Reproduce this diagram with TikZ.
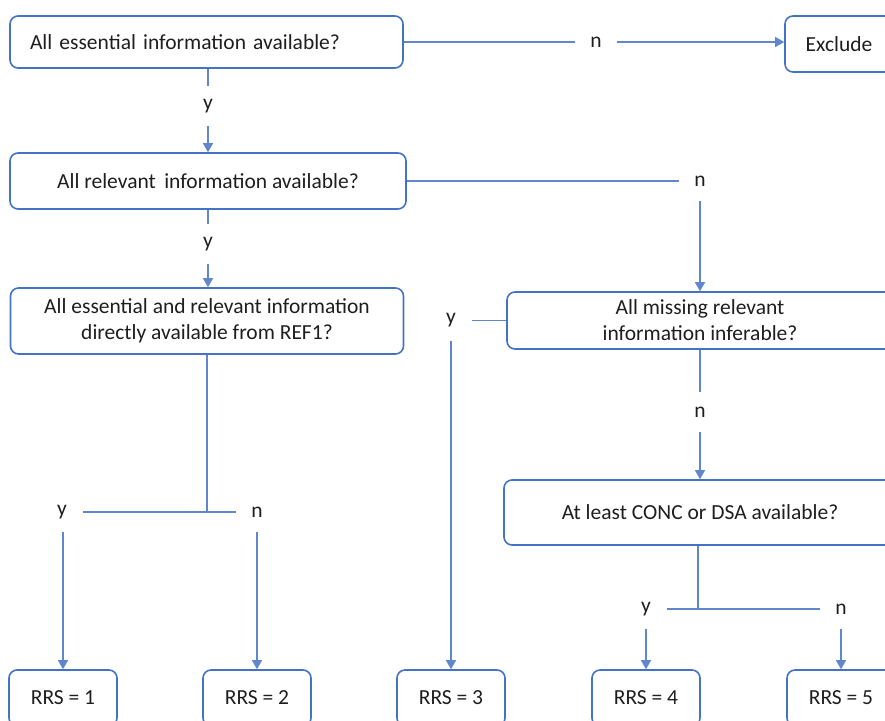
\documentclass[tikz,border=0pt]{standalone}
\usepackage{fontspec}
\setmainfont{Carlito}
\usetikzlibrary{arrows.meta}
\definecolor{bl}{HTML}{4472C4}
\definecolor{tx}{HTML}{1E1E1E}
\begin{document}
\begin{tikzpicture}[x=1pt,y=-1pt,
 box/.style={draw=bl, line width=1.6pt, rounded corners=8pt, text=tx, inner sep=0pt, align=center, font=\fontsize{21.5}{26}\selectfont},
 lab/.style={text=tx, inner sep=0pt, minimum width=42pt, minimum height=40pt, font=\fontsize{21.5}{26}\selectfont},
 con/.style={draw=bl!85, line width=1.3pt},
 arr/.style={con, -{Triangle[width=10pt,length=9pt]}}]
\useasboundingbox (0,0) rectangle (885,720);
\clip (0,0) rectangle (885,720);
% boxes
\node[box, minimum width=393pt, minimum height=52pt, text width=353pt, align=left] (b1) at (206.5,42) {All essential information available?};
\node[box, minimum width=108pt, minimum height=56pt] (ex) at (839,44) {Exclude};
\node[box, minimum width=396pt, minimum height=56pt] (b2) at (208,181) {All relevant\, information available?};
\node[box, minimum width=393pt, minimum height=66pt] (b3) at (207,321) {All essential and relevant information\\directly available from REF1?};
\node[box, minimum width=386pt, minimum height=57pt] (b4) at (700,320.5) {All missing relevant\\information inferable?};
\node[box, minimum width=392pt, minimum height=65pt] (b5) at (700,512.5) {At least CONC or DSA available?};
\node[box, minimum width=108pt, minimum height=56pt] (r1) at (63,698) {RRS = 1};
\node[box, minimum width=108pt, minimum height=56pt] (r2) at (257,698) {RRS = 2};
\node[box, minimum width=108pt, minimum height=56pt] (r3) at (451,698) {RRS = 3};
\node[box, minimum width=108pt, minimum height=56pt] (r4) at (646,698) {RRS = 4};
\node[box, minimum width=108pt, minimum height=56pt] (r5) at (841,698) {RRS = 5};
% labels
\node[lab] (n1) at (596,42) {n};
\node[lab] (y1) at (208,106) {y};
\node[lab] (y2) at (208,244) {y};
\node[lab] (n2) at (700,181) {n};
\node[lab] (y3) at (451,320.5) {y};
\node[lab] (n3) at (700,412) {n};
\node[lab] (yl1) at (62,512) {y};
\node[lab] (nl2) at (257,512) {n};
\node[lab] (yl4) at (646,609) {y};
\node[lab] (nl5) at (841,609) {n};
% connectors
\draw[con] (b1.east |- n1.west) -- (n1.west);
\draw[arr] (n1.east) -- (ex.west |- n1.east);
\draw[con] (b1.south -| y1) -- (y1.north);
\draw[arr] (y1.south) -- (b2.north -| y1);
\draw[con] (b2.south -| y2) -- (y2.north);
\draw[arr] (y2.south) -- (b3.north -| y2);
\draw[con] (b2.east) -- (n2.west);
\draw[arr] (n2.south) -- (b4.north);
\draw[con] (b4.west) -- (y3.east);
\draw[arr] (y3.south) -- (r3.north);
\draw[con] (b4.south) -- (n3.north);
\draw[arr] (n3.south) -- (b5.north);
\coordinate (j1) at (b3.south |- yl1.east);
\draw[con] (b3.south) -- (j1);
\draw[con] (yl1.east) -- (nl2.west);
\draw[arr] (r1.north |- yl1.south) -- (r1.north);
\draw[arr] (nl2.south) -- (r2.north);
\coordinate (j2) at (698,609);
\draw[con] (b5.south -| j2) -- (j2);
\draw[con] (yl4.east) -- (nl5.west);
\draw[arr] (yl4.south) -- (r4.north);
\draw[arr] (nl5.south) -- (r5.north);
\end{tikzpicture}
\end{document}
